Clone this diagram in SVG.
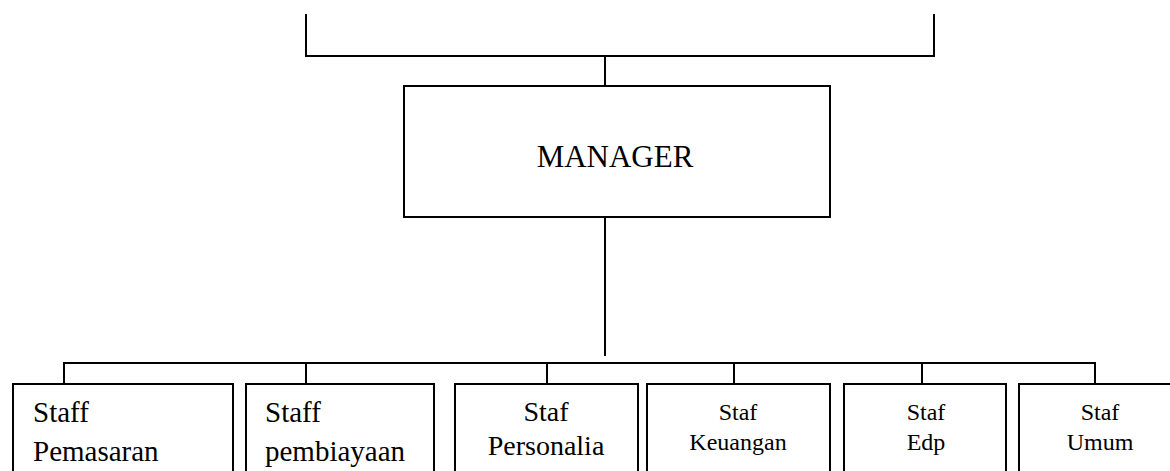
<svg xmlns="http://www.w3.org/2000/svg" width="1170" height="471" viewBox="0 0 1170 471">
<style>
.box{fill:#fff;stroke:#000;stroke-width:2}
.ln{fill:none;stroke:#000;stroke-width:2}
.t{font-family:'Liberation Serif','Tinos','Times New Roman','DejaVu Serif',serif;fill:#000}
.c{text-anchor:middle}
</style>
<rect width="1170" height="471" fill="#fff"/>
<g id="connectors" class="ln">
<path d="M306,14 V56 H934 V14"/>
<path d="M605,56 V86"/>
<path d="M605,217 V356"/>
<path d="M64,384 V363 H1095 V384"/>
<path d="M306,363 V384"/>
<path d="M547,363 V384"/>
<path d="M734,363 V384"/>
<path d="M922,363 V384"/>
</g>
<g id="manager">
<rect class="box" x="404" y="86" width="426" height="131"/>
<text class="t c" x="615" y="167" font-size="31">MANAGER</text>
</g>
<g id="staff-pemasaran">
<rect class="box" x="13" y="384" width="220" height="100"/>
<text class="t" x="33" y="422" font-size="29">Staff</text>
<text class="t" x="33" y="461" font-size="29">Pemasaran</text>
</g>
<g id="staff-pembiayaan">
<rect class="box" x="246" y="384" width="188" height="100"/>
<text class="t" x="265" y="422" font-size="29">Staff</text>
<text class="t" x="265" y="461" font-size="29">pembiayaan</text>
</g>
<g id="staf-personalia">
<rect class="box" x="455" y="384" width="183" height="100"/>
<text class="t c" x="546" y="421" font-size="28">Staf</text>
<text class="t c" x="546" y="455" font-size="28">Personalia</text>
</g>
<g id="staf-keuangan">
<rect class="box" x="647" y="384" width="183" height="100"/>
<text class="t c" x="738" y="420" font-size="24">Staf</text>
<text class="t c" x="738" y="450" font-size="24">Keuangan</text>
</g>
<g id="staf-edp">
<rect class="box" x="844" y="384" width="162" height="100"/>
<text class="t c" x="926" y="420" font-size="24">Staf</text>
<text class="t c" x="926" y="450" font-size="24">Edp</text>
</g>
<g id="staf-umum">
<rect class="box" x="1019" y="384" width="160" height="100"/>
<text class="t c" x="1100" y="420" font-size="24">Staf</text>
<text class="t c" x="1100" y="450" font-size="24">Umum</text>
</g>
</svg>
